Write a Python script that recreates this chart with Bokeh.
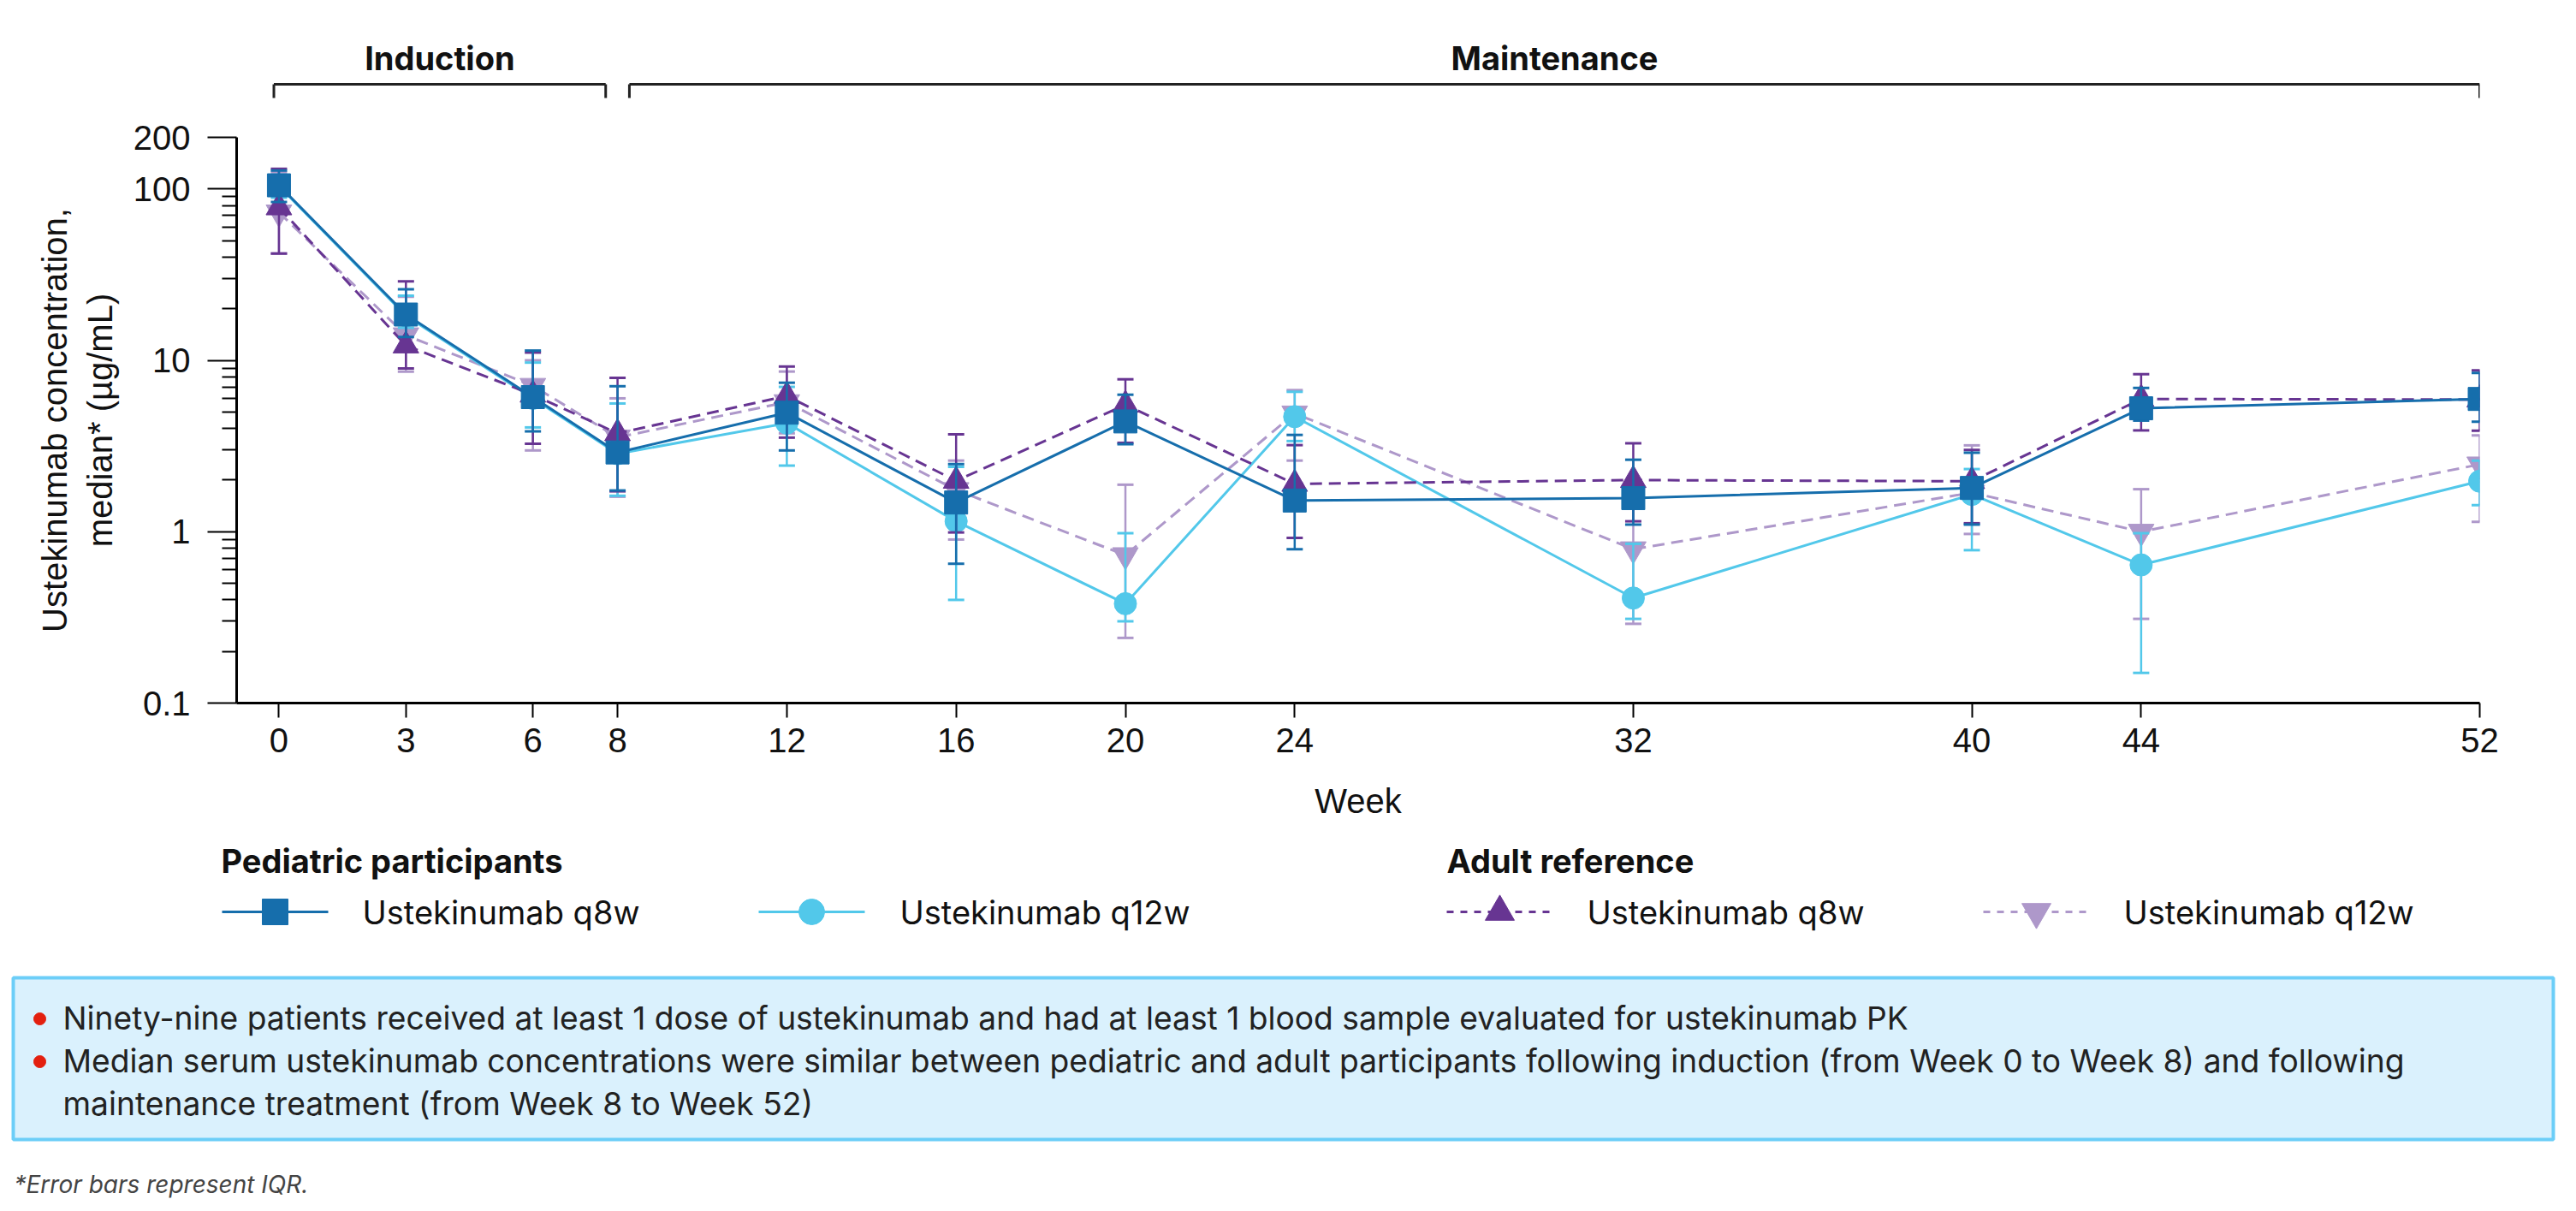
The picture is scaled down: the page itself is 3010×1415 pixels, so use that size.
from bokeh.plotting import figure
from bokeh.models import Range1d, FixedTicker, CustomJSTickFormatter, ColumnDataSource
from bokeh.layouts import column
from bokeh.embed import file_html
from bokeh.resources import INLINE
from bokeh.core.properties import value

# ---------------- data ----------------
weeks = [0, 3, 6, 8, 12, 16, 20, 24, 32, 40, 44, 52]
y_tick_values = [0.1, 1, 10, 100, 200]

ped_q8w_median = [105, 18.5, 6.1, 2.9, 4.95, 1.48, 4.4, 1.52, 1.57, 1.80, 5.25, 5.95]
ped_q8w_q1 = [84, 13.7, 3.85, 1.74, 2.98, 0.65, 3.24, 0.79, 1.10, 1.10, 4.45, 4.38]
ped_q8w_q3 = [128, 26.0, 11.4, 7.06, 7.4, 2.48, 6.3, 3.67, 2.63, 2.89, 6.9, 8.44]

ped_q12w_median = [104, 18.2, 6.0, 2.85, 4.3, 1.15, 0.38, 4.69, 0.41, 1.65, 0.64, 1.97]
ped_q12w_q1 = [89, 15.5, 4.06, 1.62, 2.43, 0.40, 0.30, 3.38, 0.31, 0.78, 0.15, 1.43]
ped_q12w_q3 = [121, 23.8, 9.7, 5.6, 7.0, 2.39, 0.98, 6.55, 0.85, 2.32, 0.98, 2.6]

adult_q8w_median = [78, 12.2, 6.3, 3.75, 6.2, 1.98, 5.5, 1.90, 2.0, 1.97, 5.95, 5.9]
adult_q8w_q1 = [42, 8.97, 3.26, 1.72, 3.54, 0.99, 3.3, 0.92, 1.15, 1.12, 3.9, 3.88]
adult_q8w_q3 = [131, 28.9, 11.1, 7.9, 9.2, 3.7, 7.75, 3.2, 3.28, 3.0, 8.3, 8.74]

adult_q12w_median = [73, 14.0, 7.1, 3.55, 5.7, 1.75, 0.73, 4.9, 0.79, 1.69, 1.0, 2.47]
adult_q12w_q1 = [42, 8.6, 2.98, 1.6, 3.75, 0.9, 0.24, 2.6, 0.29, 0.97, 0.31, 1.14]
adult_q12w_q3 = [125, 23.5, 10.0, 6.0, 8.6, 2.6, 1.88, 6.7, 1.5, 3.19, 1.77, 3.65]

group_titles = ["Pediatric participants", "Adult reference"]
series_labels = ["Ustekinumab q8w", "Ustekinumab q12w", "Ustekinumab q8w", "Ustekinumab q12w"]

phases = ["Induction", "Maintenance"]
phase_start = [0, 8]
phase_end = [8, 52]

bullets = [
    "Ninety-nine patients received at least 1 dose of ustekinumab and had at least 1 blood sample evaluated for ustekinumab PK",
    "Median serum ustekinumab concentrations were similar between pediatric and adult participants following induction (from Week 0 to Week 8) and following",
    "maintenance treatment (from Week 8 to Week 52)",
]
footnote = "*Error bars represent IQR."

# ---------------- styles ----------------
C_PED8 = "#166EAC"
C_PED12 = "#52C8EA"
C_AD8 = "#673592"
C_AD12 = "#AE98CA"
TXT = "#111111"
SANS = "Liberation Sans"
UI = "Inter"

series = [
    # (median, q1, q3, color, marker, size, dash)
    (ped_q8w_median, ped_q8w_q1, ped_q8w_q3, C_PED8, "square", 27, "solid"),
    (ped_q12w_median, ped_q12w_q1, ped_q12w_q3, C_PED12, "circle", 26, "solid"),
    (adult_q8w_median, adult_q8w_q1, adult_q8w_q3, C_AD8, "triangle", 30, "14 8"),
    (adult_q12w_median, adult_q12w_q1, adult_q12w_q3, C_AD12, "inverted_triangle", 30, "14 8"),
]
draw_order = [3, 1, 2, 0]

W = 3010
LEFT, RIGHT = 276, 113
FW = W - LEFT - RIGHT
HDR_H = 138
BOTTOM_BORDER = 160


def no_align(f):
    try:
        f.frame_align = False
    except Exception:
        pass


# ---------------- header (phase brackets) ----------------
x_range = Range1d(-1, 52)
hdr = figure(frame_width=FW, frame_height=HDR_H, x_range=x_range, y_range=Range1d(HDR_H, 0),
             min_border_left=LEFT, min_border_right=RIGHT, min_border_top=0, min_border_bottom=0,
             output_backend="svg", toolbar_location=None)
hdr.axis.visible = False
hdr.grid.visible = False
hdr.outline_line_color = None
gap = 0.28
b_left = [s + (gap if s in phase_end else -0.12) for s in phase_start]
b_right = [e - (gap if e in phase_start else 0) for e in phase_end]
b_mid = [(a + b) / 2 for a, b in zip(b_left, b_right)]
hsrc = ColumnDataSource(dict(l=b_left, r=b_right, m=b_mid, t=phases,
                             ytop=[98] * 2, ybot=[114] * 2, ytxt=[67] * 2))
hdr.segment(x0="l", y0="ytop", x1="r", y1="ytop", source=hsrc, line_color="#222222", line_width=3)
hdr.segment(x0="l", y0="ytop", x1="l", y1="ybot", source=hsrc, line_color="#222222", line_width=3)
hdr.segment(x0="r", y0="ytop", x1="r", y1="ybot", source=hsrc, line_color="#222222", line_width=3)
hdr.text(x="m", y="ytxt", text="t", source=hsrc, text_font=value(UI), text_font_style="bold",
         text_font_size="38px", text_align="center", text_baseline="alphabetic", text_color=TXT)

# ---------------- main plot ----------------
p = figure(frame_width=FW, frame_height=661, x_range=x_range, y_range=Range1d(0.1, 200),
           y_axis_type="log", min_border_left=LEFT, min_border_right=RIGHT,
           min_border_top=22, min_border_bottom=BOTTOM_BORDER,
           output_backend="svg", toolbar_location=None)
p.grid.visible = False
p.outline_line_color = None

for i in draw_order:
    med, q1, q3, col, mk, sz, dash = series[i]
    src = ColumnDataSource(dict(x=weeks, y=med, lo=q1, hi=q3))
    p.line(x="x", y="y", source=src, line_color=col, line_width=3, line_dash=dash)
    p.segment(x0="x", y0="lo", x1="x", y1="hi", source=src, line_color=col, line_width=2.5)
    p.scatter(x="x", y="lo", source=src, marker="dash", size=19, line_color=col, line_width=3)
    p.scatter(x="x", y="hi", source=src, marker="dash", size=19, line_color=col, line_width=3)
    p.scatter(x="x", y="y", source=src, marker=mk, size=sz, fill_color=col, line_color=col)

xa = p.xaxis[0]
xa.ticker = FixedTicker(ticks=weeks, minor_ticks=[])
xa.axis_line_width = 3
xa.axis_line_color = "#000000"
xa.major_tick_out = 17
xa.major_tick_in = 0
xa.major_tick_line_width = 2
xa.major_label_text_font = SANS
xa.major_label_text_font_size = "40px"
xa.major_label_text_color = TXT
xa.major_label_standoff = 12
xa.axis_label = "Week"
xa.axis_label_text_font = SANS
xa.axis_label_text_font_size = "40px"
xa.axis_label_text_font_style = "normal"
xa.axis_label_text_color = TXT
xa.axis_label_standoff = 32

ya = p.yaxis[0]
ya.ticker = FixedTicker(ticks=y_tick_values,
                        minor_ticks=[m * d for d in (0.1, 1, 10) for m in range(2, 10)])
ya.formatter = CustomJSTickFormatter(code="return String(Number(tick.toPrecision(6)));")
ya.axis_line_width = 3
ya.axis_line_color = "#000000"
ya.major_tick_out = 34
ya.major_tick_in = 0
ya.minor_tick_out = 17
ya.minor_tick_in = 0
ya.major_tick_line_width = 2
ya.minor_tick_line_width = 2
ya.major_label_text_font = SANS
ya.major_label_text_font_size = "40px"
ya.major_label_text_color = TXT
ya.major_label_standoff = 20
ya.axis_label = "Ustekinumab concentration,\nmedian* (\u00b5g/mL)"
ya.axis_label_text_font = SANS
ya.axis_label_text_font_size = "40px"
ya.axis_label_text_font_style = "normal"
ya.axis_label_text_color = TXT
ya.axis_label_standoff = 14

# ---------------- bottom: legend + box + footnote ----------------
TOP = HDR_H + 22 + 661 + BOTTOM_BORDER
BH = 1412 - TOP
bot = figure(frame_width=W, frame_height=BH, x_range=Range1d(0, W),
             y_range=Range1d(TOP + BH, TOP), min_border=0,
             output_backend="svg", toolbar_location=None)
bot.axis.visible = False
bot.grid.visible = False
bot.outline_line_color = None

for f in (hdr, p, bot):
    no_align(f)

# legend group titles
bot.text(x=[258, 1690], y=[1005, 1005], text=group_titles, text_font=value(UI),
         text_font_style="bold", text_font_size="38px", text_baseline="alphabetic", text_color=TXT)
leg_x0 = [259, 886, 1690, 2317]
leg_len = 124
leg_text_x = [423, 1051, 1854, 2481]
leg_y = 1065
for i, (med, q1, q3, col, mk, sz, dash) in enumerate(series):
    ldash = "solid" if dash == "solid" else "8 8"
    bot.line(x=[leg_x0[i], leg_x0[i] + leg_len], y=[leg_y, leg_y], line_color=col,
             line_width=3, line_dash=ldash)
    bot.scatter(x=[leg_x0[i] + leg_len / 2], y=[leg_y], marker=mk, size=30 if sz < 30 else 34,
                fill_color=col, line_color=col)
    bot.text(x=[leg_text_x[i]], y=[1065], text=[series_labels[i]], text_font=value(UI),
             text_font_size="38px", text_baseline="alphabetic", text_color=TXT)

# info box
bot.quad(left=[15], right=[2983], top=[1142], bottom=[1331], fill_color="#DAF1FD",
         line_color="#6CCEF8", line_width=4)
centers = [1189, 1239, 1289]
bot.scatter(x=[46, 46], y=[centers[0] + 1, centers[1] + 1], marker="circle", size=14,
            fill_color="#E3200F", line_color="#E3200F")
bot.text(x=[73] * 3, y=centers, text=bullets, text_font=value(UI), text_font_size="37.2px",
         text_baseline="alphabetic", text_color="#222222")

bot.text(x=[16], y=[1383], text=[footnote], text_font=value(UI), text_font_style="italic",
         text_font_size="28px", text_baseline="alphabetic", text_color="#444444")

layout = column(hdr, p, bot, spacing=0)
open("out.html", "w").write(file_html(layout, INLINE))
